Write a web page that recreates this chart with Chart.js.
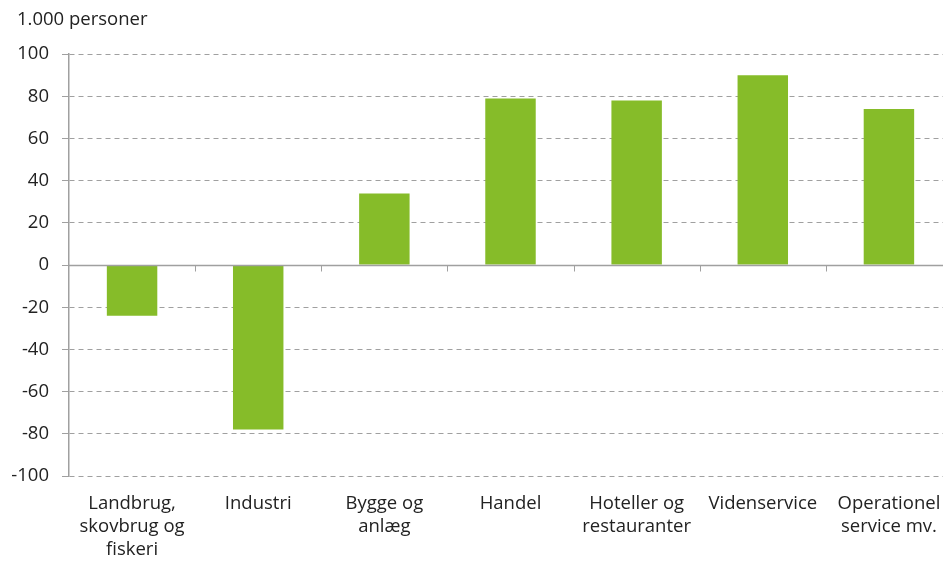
<!DOCTYPE html>
<html lang="da">
<head>
    <meta charset="UTF-8">
    <title>Beskæftigelse efter erhverv</title>
    <script src="https://cdn.jsdelivr.net/npm/chart.js"></script>
    <style>
        html, body {
            margin: 0;
            padding: 0;
            background: #ffffff;
            overflow: hidden;
        }
        /* the plot runs a little past the right edge of the window */
        #wrap {
            width: 952px;
            height: 563px;
        }
    </style>
</head>
<body>
    <div id="wrap"><canvas id="myChart"></canvas></div>

    <script>
        const categories = [
            ['Landbrug,', 'skovbrug og', 'fiskeri'],
            'Industri',
            ['Bygge og', 'anlæg'],
            'Handel',
            ['Hoteller og', 'restauranter'],
            'Videnservice',
            ['Operationel', 'service mv.']
        ];
        const values = [-24, -78, 34, 79, 78, 90, 74];
        const yTicks = [-100, -80, -60, -40, -20, 0, 20, 40, 60, 80, 100];
        const unitLabel = '1.000 personer';

        // solid zero line plus small tick marks between categories
        const zeroLine = {
            id: 'zeroLine',
            afterLayout(chart) {
                // nudge the unit label a little to the right
                if (chart.titleBlock) chart.titleBlock.left += 5;
            },
            afterDatasetsDraw(chart) {
                const { ctx, chartArea, scales: { x, y } } = chart;
                const y0 = Math.round(y.getPixelForValue(0)) + 0.5;
                ctx.save();
                ctx.strokeStyle = '#a0a0a0';
                ctx.lineWidth = 1.5;
                ctx.beginPath();
                ctx.moveTo(chartArea.left, y0);
                ctx.lineTo(chartArea.right, y0);
                ctx.stroke();
                ctx.lineWidth = 1;
                for (let i = 1; i < categories.length; i++) {
                    const px = Math.round((x.getPixelForValue(i - 1) + x.getPixelForValue(i)) / 2) + 0.5;
                    ctx.beginPath();
                    ctx.moveTo(px, y0);
                    ctx.lineTo(px, y0 + 6);
                    ctx.stroke();
                }
                ctx.restore();
            }
        };

        Chart.defaults.font.family = '"Open Sans", sans-serif';
        Chart.defaults.font.size = 18.5;
        Chart.defaults.color = '#222222';

        new Chart(document.getElementById('myChart'), {
            type: 'bar',
            data: {
                labels: categories,
                datasets: [{
                    data: values,
                    backgroundColor: '#86bc29',
                    categoryPercentage: 1,
                    barPercentage: 0.4
                }]
            },
            options: {
                responsive: true,
                maintainAspectRatio: false,
                animation: false,
                layout: { padding: { left: 12, right: 0, top: 0, bottom: 0 } },
                plugins: {
                    legend: { display: false },
                    tooltip: { enabled: false },
                    title: {
                        display: true,
                        text: unitLabel,
                        align: 'start',
                        color: '#222222',
                        font: { size: 18.5, weight: 'normal', lineHeight: 1.2 },
                        padding: { top: 9, bottom: 23 }
                    }
                },
                scales: {
                    x: {
                        grid: { display: false, drawTicks: false },
                        border: { display: false },
                        ticks: { padding: 16, maxRotation: 0, autoSkip: false, font: { size: 18.5, lineHeight: 1.25 } },
                        afterFit(axis) {
                            axis.height = 87;
                            axis.paddingLeft = 0;
                            axis.paddingRight = 0;
                        }
                    },
                    y: {
                        min: -100,
                        max: 100,
                        afterBuildTicks(axis) {
                            axis.ticks = yTicks.map(v => ({ value: v }));
                        },
                        afterFit(axis) { axis.width = 57; },
                        grid: {
                            color: '#a0a0a0',
                            lineWidth: 1,
                            tickLength: 7,
                            tickColor: '#a0a0a0'
                        },
                        border: { display: true, color: '#a0a0a0', width: 1.5, dash: [5, 4] },
                        ticks: { padding: 13 }
                    }
                }
            },
            plugins: [zeroLine]
        });
    </script>
</body>
</html>
